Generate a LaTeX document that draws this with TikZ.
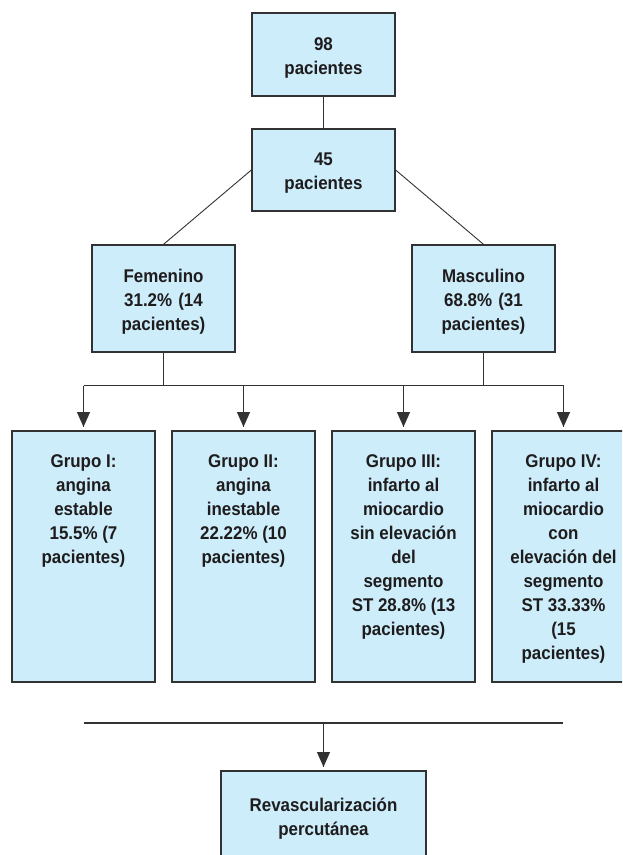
\documentclass[tikz,border=0pt]{standalone}
\usepackage{fontspec}
\setmainfont{Liberation Sans}[FakeStretch=0.92]
\usetikzlibrary{arrows.meta,decorations.markings}
\definecolor{cajafill}{RGB}{205,237,250}
\definecolor{borde}{RGB}{50,50,50}
\definecolor{texto}{RGB}{30,28,29}
\newcommand{\letra}{\fontsize{18.4}{24}\selectfont\bfseries}
\tikzstyle{caja} = [rectangle, minimum width=143pt, minimum height=83pt, text width=136pt, text height=19.5pt, align=center, draw=borde, line width=1.3pt, fill=cajafill, text=texto, font=\letra, inner sep=0pt]
\tikzstyle{grupo} = [rectangle, minimum width=143pt, minimum height=251pt, draw=borde, line width=1.3pt, fill=cajafill, outer sep=4pt]
\tikzstyle{grupotxt} = [anchor=north, align=center, text=texto, font=\letra, inner sep=0pt, yshift=-27.5pt]
\tikzstyle{linea} = [draw=borde, line width=1.2pt]

\begin{document}
\begin{tikzpicture}[x=1pt, y=1pt, node distance=160pt]
    \tikzset{myptr/.style={linea, decoration={markings,mark=at position 1 with %
    {\arrow{Triangle[length=15pt,width=13pt]}}},postaction={decorate}}}
\useasboundingbox (0,0) rectangle (622,-855);
\clip (0,0) rectangle (622,-855);

\node (n98) [caja] at (323.5,-54.5) {98\\pacientes};
\node (n45) [caja, minimum height=82pt, below of=n98, yshift=44.5pt] {45\\pacientes};
\node (fem) [caja, minimum height=107pt, below of=n45, xshift=-160pt, yshift=31.5pt] {Femenino\\31.2\% (14\\pacientes)};
\node (masc) [caja, minimum height=107pt, below of=n45, xshift=160pt, yshift=31.5pt] {Masculino\\68.8\% (31\\pacientes)};

\node (g1) [grupo, below of=fem, xshift=-80pt, yshift=-98pt] {};
\node (g2) [grupo, right of=g1] {};
\node (g3) [grupo, right of=g2] {};
\node (g4) [grupo, right of=g3] {};
\node (g1t) [grupotxt] at (g1.north) {Grupo I:\\angina\\estable\\15.5\% (7\\pacientes)};
\node (g2t) [grupotxt] at (g2.north) {Grupo II:\\angina\\inestable\\22.22\% (10\\pacientes)};
\node (g3t) [grupotxt] at (g3.north) {Grupo III:\\infarto al\\miocardio\\sin elevación\\del\\segmento\\ST 28.8\% (13\\pacientes)};
\node (g4t) [grupotxt] at (g4.north) {Grupo IV:\\infarto al\\miocardio\\con\\elevación del\\segmento\\ST 33.33\%\\(15\\pacientes)};

\node (rev) [caja, minimum width=205pt, minimum height=90pt, text width=190pt, outer sep=4pt, below of=g2, xshift=80pt, yshift=-99.5pt] {Revascularización\\percutánea};

\draw [linea] (n98.south) -- (n45.north);
\draw [linea, line width=0.9pt] (n45.west) -- (fem.north);
\draw [linea, line width=0.9pt] (n45.east) -- (masc.north);
\draw [linea] (fem.south) -- ++(0,-33pt) coordinate (fb);
\draw [linea] (masc.south) -- (masc.south |- fb);
\draw [linea] (g1.north |- fb) -- (g4.north |- fb);
\foreach \g in {g1,g2,g3,g4}
    \draw [myptr] (\g.north |- fb) -- (\g.north);

\coordinate (barl) at (84,-723);
\coordinate (barr) at (563,-723);
\draw [linea, line width=2.6pt] (barl) -- (barr);
\draw [myptr] (rev.north |- barl) -- (rev.north);
\end{tikzpicture}
\end{document}
